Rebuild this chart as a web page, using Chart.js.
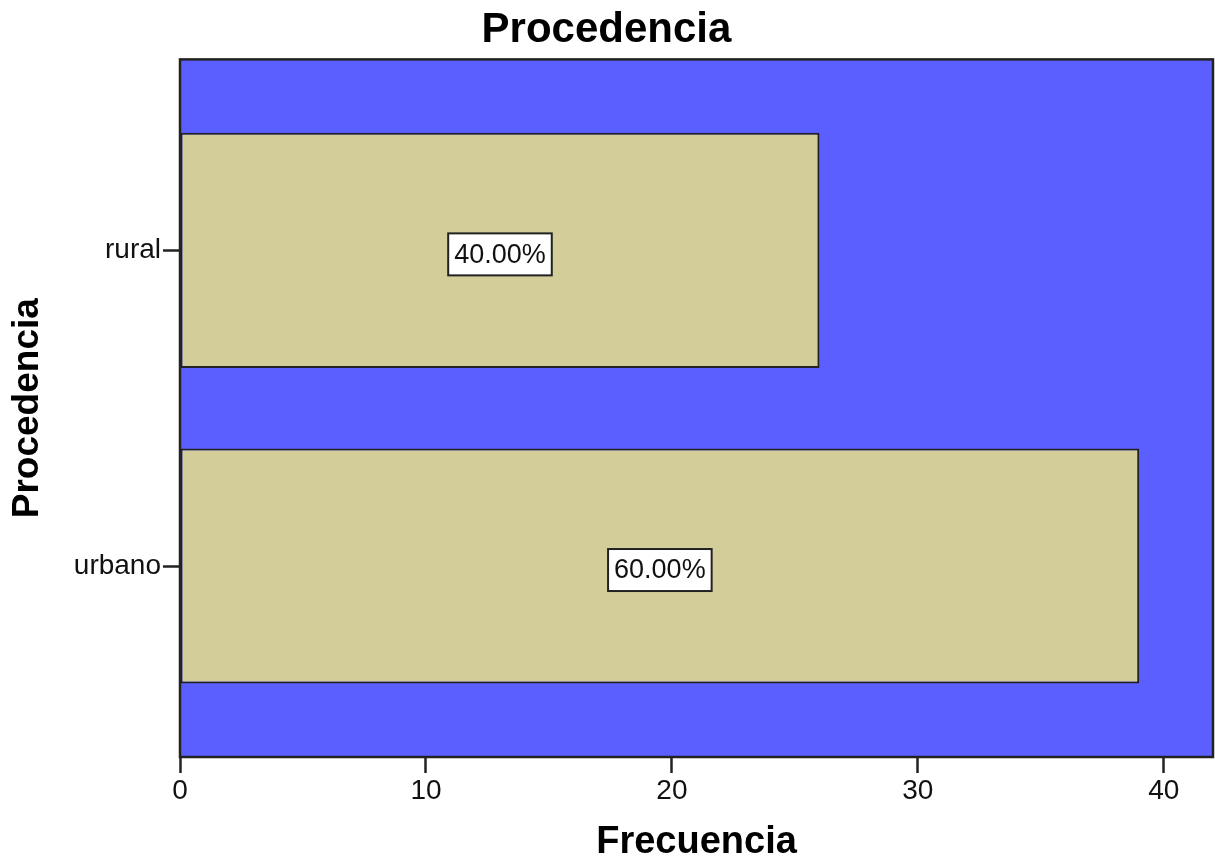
<!DOCTYPE html>
<html>
<head>
<meta charset="utf-8">
<script src="https://cdn.jsdelivr.net/npm/chart.js@4/dist/chart.umd.min.js"></script>
<style>
  body { margin: 0; background: #fff; }
  #wrap { width: 1215px; height: 867px; }
</style>
</head>
<body>
<div id="wrap"><canvas id="myChart" width="1215" height="867"></canvas></div>
<script>
"use strict"
// valori
const categorie = ["rural", "urbano"];
const posizioni = [1, 2];
const frecuencias = [26, 39];
const porcentajes = ["40.00%", "60.00%"];
const tickX = [0, 10, 20, 30, 40];

const FONT = "'Liberation Sans', Arial, sans-serif";
const BLU = "#5c5fff";
const BEIGE = "#d3cd99";
const SCURO = "#222";

// sfondo blu + bordo dell'area del grafico
const sfondoPlugin = {
    id: "sfondo",
    beforeDraw: function (chart) {
        let a = chart.chartArea;
        let ctx = chart.ctx;
        ctx.save();
        ctx.fillStyle = BLU;
        ctx.fillRect(a.left, a.top, a.right - a.left, a.bottom - a.top);
        ctx.restore();
    },
    afterDatasetsDraw: function (chart) {
        let a = chart.chartArea;
        let ctx = chart.ctx;
        ctx.save();
        ctx.strokeStyle = SCURO;
        ctx.lineWidth = 2.5;
        ctx.strokeRect(a.left, a.top, a.right - a.left, a.bottom - a.top);

        // etichette percentuali nelle barre
        let meta = chart.getDatasetMeta(0);
        ctx.font = "27px " + FONT;
        ctx.textAlign = "center";
        ctx.textBaseline = "middle";
        for (let i = 0; i < meta.data.length; i++) {
            let c = meta.data[i].getCenterPoint();
            let w = ctx.measureText(porcentajes[i]).width + 12;
            let h = 42;
            ctx.fillStyle = "#fff";
            ctx.fillRect(c.x - w / 2, c.y + 4 - h / 2, w, h);
            ctx.lineWidth = 2;
            ctx.strokeStyle = SCURO;
            ctx.strokeRect(c.x - w / 2, c.y + 4 - h / 2, w, h);
            ctx.fillStyle = "#111";
            ctx.fillText(porcentajes[i], c.x, c.y + 5);
        }
        ctx.restore();
    }
};

let dati = [];
for (let i = 0; i < categorie.length; i++) {
    dati.push({ x: frecuencias[i], y: posizioni[i] });
}

let ctx = document.getElementById("myChart").getContext("2d");
let myChart = new Chart(ctx, {
    type: "bar",
    data: {
        datasets: [{
            data: dati,
            backgroundColor: BEIGE,
            borderColor: SCURO,
            borderWidth: 2,
            borderSkipped: false,
            barPercentage: 0.745,
            categoryPercentage: 1
        }]
    },
    options: {
        indexAxis: "y",
        responsive: false,
        animation: false,
        layout: { padding: { top: 0, right: 2, bottom: 0, left: 0 } },
        plugins: {
            legend: { display: false },
            tooltip: { enabled: false },
            title: {
                display: true,
                text: "Procedencia",
                color: "#000",
                font: { family: FONT, size: 42, weight: "bold" },
                padding: { top: 5, bottom: 4 }
            }
        },
        scales: {
            x: {
                type: "linear",
                min: 0,
                max: 42,
                afterFit: function (scale) { scale.height = 110; },
                afterBuildTicks: function (scale) {
                    scale.ticks = tickX.map(function (v) { return { value: v }; });
                },
                grid: {
                    drawOnChartArea: false,
                    drawTicks: true,
                    tickLength: 16,
                    tickWidth: 2.5,
                    tickColor: SCURO
                },
                border: { display: false },
                ticks: {
                    color: "#111",
                    padding: 1,
                    font: { family: FONT, size: 28 }
                },
                title: {
                    display: true,
                    text: "Frecuencia",
                    color: "#000",
                    font: { family: FONT, size: 38, weight: "bold" },
                    padding: { top: 0, bottom: 2 }
                }
            },
            y: {
                type: "linear",
                reverse: true,
                offset: false,
                min: 0.395,
                max: 2.605,
                afterFit: function (scale) { scale.width = 180; },
                afterBuildTicks: function (scale) {
                    scale.ticks = posizioni.map(function (v) { return { value: v }; });
                },
                grid: {
                    offset: false,
                    drawOnChartArea: false,
                    drawTicks: true,
                    tickLength: 17,
                    tickWidth: 2.5,
                    tickColor: SCURO
                },
                border: { display: false },
                ticks: {
                    color: "#111",
                    padding: 2,
                    font: { family: FONT, size: 28 },
                    callback: function (v) { return categorie[posizioni.indexOf(v)]; }
                },
                title: {
                    display: true,
                    text: "Procedencia",
                    color: "#000",
                    font: { family: FONT, size: 37, weight: "bold" },
                    padding: { top: 6, bottom: 0 }
                }
            }
        }
    },
    plugins: [sfondoPlugin]
});
</script>
</body>
</html>
